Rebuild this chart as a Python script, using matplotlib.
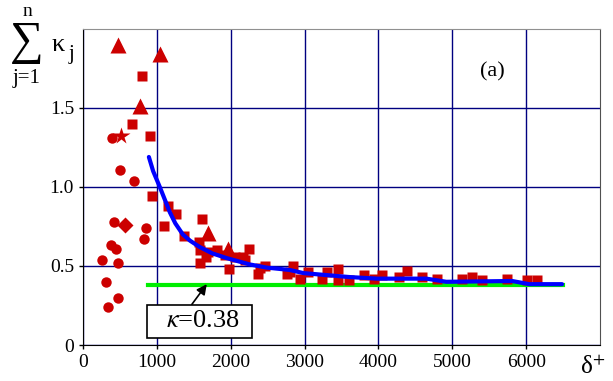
import matplotlib
matplotlib.use("Agg")
import matplotlib.pyplot as plt

plt.rcParams['font.family'] = ['Liberation Serif', 'DejaVu Serif']
plt.rcParams['mathtext.fontset'] = 'stix'

# data
circle_x = [392, 500, 689, 419, 851, 824, 378, 446, 257, 473, 311, 473, 338]
circle_y = [1.31, 1.11, 1.04, 0.78, 0.74, 0.67, 0.63, 0.61, 0.54, 0.52, 0.40, 0.30, 0.24]

tri_x = [473, 1040, 770, 1689, 1959]
tri_y = [1.90, 1.84, 1.51, 0.71, 0.61]

star_x = [514]
star_y = [1.32]

diamond_x = [568]
diamond_y = [0.76]

square_x = [797, 662, 905, 932, 1149, 1257, 1095, 1365, 1608, 1568, 1581, 1689,
            1662, 1581, 1811, 1919, 2054, 1973, 2243, 2189, 2162, 2392, 2459, 2365,
            2757, 2838, 2797, 2932, 3041, 3297, 3230, 3459, 3446, 3608, 3811, 4054,
            3946, 4284, 4392, 4595, 4797, 5135, 5270, 5405, 5743, 6014, 6149]
square_y = [1.70, 1.40, 1.32, 0.94, 0.88, 0.83, 0.75, 0.69, 0.80, 0.65, 0.60, 0.59,
            0.56, 0.52, 0.60, 0.57, 0.56, 0.48, 0.61, 0.54, 0.56, 0.49, 0.50, 0.45,
            0.45, 0.50, 0.46, 0.42, 0.46, 0.46, 0.42, 0.48, 0.41, 0.41, 0.44, 0.44,
            0.42, 0.43, 0.47, 0.43, 0.42, 0.42, 0.43, 0.41, 0.42, 0.41, 0.41]

fit_x = [892, 950, 1040, 1176, 1250, 1351, 1450, 1581, 1750, 1946, 2257, 2486,
         2797, 2986, 3608, 3986, 4649, 4919, 5811, 6041, 6486]
fit_y = [1.19, 1.10, 1.00, 0.84, 0.77, 0.70, 0.66, 0.62, 0.58, 0.55, 0.51, 0.49,
         0.475, 0.455, 0.43, 0.42, 0.42, 0.40, 0.405, 0.385, 0.385]

kappa = 0.38
kappa_x = [878, 6500]

xticks = [0, 1000, 2000, 3000, 4000, 5000, 6000]
yticks = [0, 0.5, 1.0, 1.5]
ytick_labels = ['0', '0.5', '1.0', '1.5']

red = '#cc0000'

fig = plt.figure(figsize=(6.13, 3.81), dpi=100)
ax = fig.add_axes([83 / 613, 1 - 345 / 381, (600 - 83) / 613, (345 - 29) / 381])

ax.set_xlim(0, 7000)
ax.set_ylim(0, 2.0)
ax.set_xticks(xticks)
ax.set_yticks(yticks)
ax.set_yticklabels(ytick_labels)
ax.tick_params(labelsize=14, length=3, direction='out', width=1)
ax.grid(True, color='#000080', lw=1)
ax.set_axisbelow(True)

for s in ['left', 'bottom']:
    ax.spines[s].set_color('black')
ax.spines['top'].set_color('#909090')
ax.spines['right'].set_color('#505050')

ax.plot(kappa_x, [kappa, kappa], color='#00ee00', lw=3, zorder=3)

ax.plot(circle_x, circle_y, 'o', color=red, ms=7.5, mec='none', zorder=4)
ax.plot(square_x, square_y, 's', color=red, ms=7, mec='none', zorder=4)
ax.plot(tri_x, tri_y, '^', color=red, ms=12, mec='none', zorder=4)
ax.plot(star_x, star_y, '*', color=red, ms=13, mec='none', zorder=4)
ax.plot(diamond_x, diamond_y, 'D', color=red, ms=8, mec='none', zorder=4)

ax.plot(fit_x, fit_y, color='#0000ff', lw=3, zorder=5, solid_capstyle='round')

ax.annotate('  $\\kappa$=0.38  ', xy=(1676, 0.385), xytext=(1581, 0.15),
            ha='center', va='center', fontsize=19, zorder=6,
            bbox=dict(boxstyle='square,pad=0.2', fc='white', ec='black', lw=1.2),
            arrowprops=dict(arrowstyle='-|>', color='black', lw=1.2,
                            relpos=(0.37, 1.0), shrinkA=0, shrinkB=0,
                            mutation_scale=15))

ax.text(5540, 1.73, '(a)', fontsize=16, ha='center', va='center')

# x label
fig.text(593 / 613, 1 - 367 / 381, 'δ$^{+}$', fontsize=18, ha='center', va='center')

# y label: sum over j of kappa_j, pieced together
fig.text(27 / 613, 1 - 43 / 381, '∑', fontsize=34, ha='center', va='center')
fig.text(27 / 613, 1 - 11 / 381, 'n', fontsize=14, ha='center', va='center')
fig.text(27 / 613, 1 - 79 / 381, 'j=1', fontsize=15, ha='center', va='center')
fig.text(58 / 613, 1 - 45 / 381, 'κ', fontsize=19, ha='center', va='center')
fig.text(71 / 613, 1 - 55 / 381, 'j', fontsize=15, ha='center', va='center')

fig.savefig('out.png', dpi=100)
